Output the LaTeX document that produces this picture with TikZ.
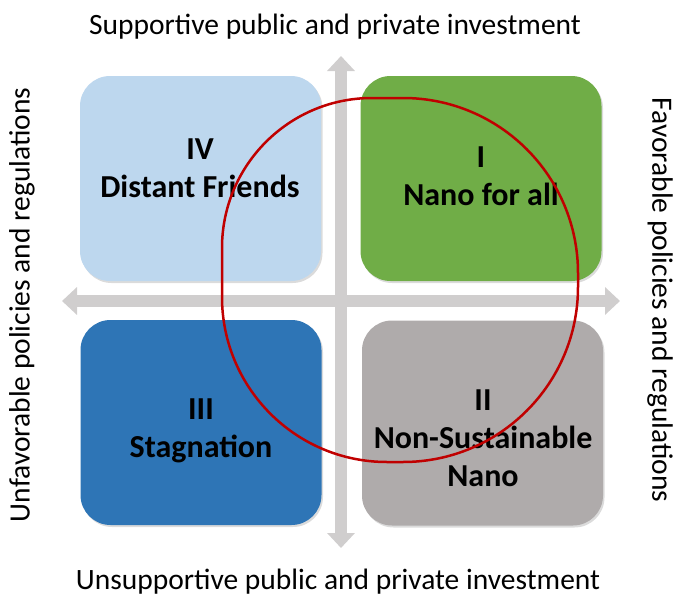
\documentclass[tikz,border=0pt]{standalone}
\usepackage{fontspec}
\setmainfont{Carlito}
\usetikzlibrary{arrows.meta,shadows}
\definecolor{axisgray}{HTML}{D0CECE}
\definecolor{quadIV}{HTML}{BDD7EE}
\definecolor{quadI}{HTML}{70AD47}
\definecolor{quadIII}{HTML}{2E75B6}
\definecolor{quadII}{HTML}{AFABAB}
\definecolor{ringred}{HTML}{C00000}
\tikzset{
  quad/.style={rounded corners=30pt, minimum width=241pt, minimum height=205pt, inner sep=0pt,
    drop shadow={shadow xshift=1.5pt, shadow yshift=-2pt, fill=black!40, opacity=0.35}},
  quadtext/.style={align=center, font=\bfseries\fontsize{32}{38}\selectfont},
  axistext/.style={font=\fontsize{29.5}{35}\selectfont},
  axis/.style={axisgray, line width=12pt, {Triangle[width=27pt,length=15pt]}-{Triangle[width=27pt,length=15pt]}}
}
\begin{document}
\begin{tikzpicture}[x=1pt,y=-1pt]
            \def\picwidth{678}
            \def\picheight{597}
            \useasboundingbox (0,0) rectangle (\picwidth,\picheight);

            % quadrants
            \node[quad, fill=quadIV] (boxIV) at (200.5,178.5) {};
            \node[quad, fill=quadI] (boxI) at (481,178.5) {};
            \node[quad, fill=quadIII] (boxIII) at (201,422.5) {};
            \node[quad, fill=quadII] (boxII) at (482.5,423) {};

            % axes
            \coordinate (west) at (62,301);
            \coordinate (east) at (620,301);
            \coordinate (north) at (341,56);
            \coordinate (south) at (341,548);
            \draw[axis] (west) -- (east);
            \draw[axis] (south) -- (north);

            % scenario names
            \node[quadtext] (nameIV) at (200,168) {IV\\Distant Friends};
            \node[quadtext] (nameI) at (481,176) {I\\Nano for all};
            \node[quadtext] (nameIII) at (201,431) {III\\Stagnation};
            \node[quadtext] (nameII) at (483,438) {II\\Non-Sustainable\\Nano};

            % ring (x from 222 to 578, y from 98 to 462)
            \draw[ringred, line width=2.5pt] (372,98) -- (403,98)
              arc[start angle=270, end angle=360, radius=175] -- (578,287)
              arc[start angle=0, end angle=90, radius=175] -- (387,462)
              arc[start angle=90, end angle=180, radius=165] -- (222,248)
              arc[start angle=180, end angle=270, radius=150] -- cycle;

            % axis labels
            \node[axistext] (top) at (335,27) {Supportive public and private investment};
            \node[axistext] (bottom) at (338,582) {Unsupportive public and private investment};
            \node[axistext, rotate=90] (left) at (22,305) {Unfavorable policies and regulations};
            \node[axistext, rotate=-90] (right) at (660,300) {Favorable policies and regulations};
        \end{tikzpicture}
\end{document}
